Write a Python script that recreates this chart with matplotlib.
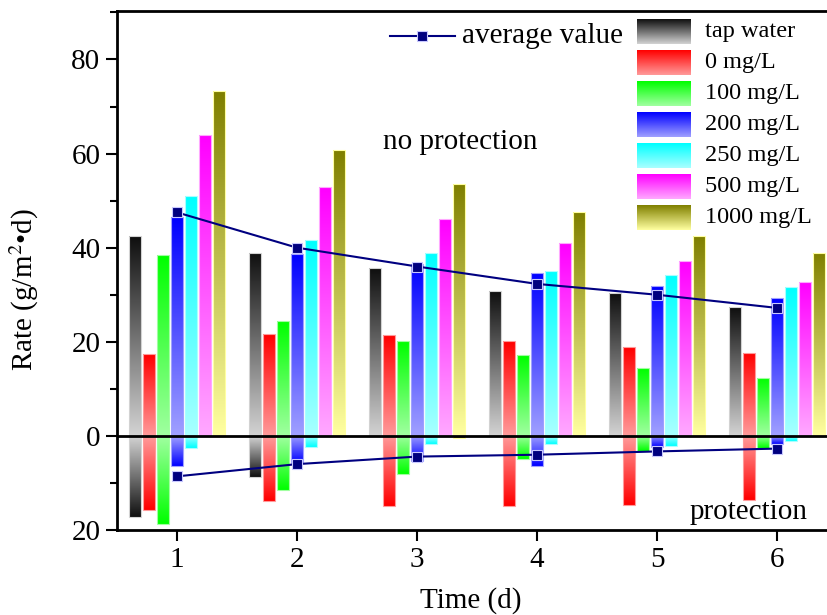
import numpy as np
import matplotlib.pyplot as plt
from matplotlib.colors import to_rgb
from matplotlib.ticker import MultipleLocator

plt.rcParams['font.family'] = ['Liberation Serif', 'DejaVu Serif']
plt.rcParams['mathtext.fontset'] = 'stix'

# 数据
days = [1, 2, 3, 4, 5, 6]
series_names = ['tap water', '0 mg/L', '100 mg/L', '200 mg/L', '250 mg/L', '500 mg/L', '1000 mg/L']

# no protection (正值)
tap_pos = [42.4, 38.9, 35.7, 30.7, 30.3, 27.4]
c0_pos = [17.3, 21.6, 21.5, 20.1, 18.9, 17.7]
c100_pos = [38.4, 24.4, 20.1, 17.1, 14.4, 12.4]
c200_pos = [46.5, 38.7, 36.6, 34.7, 31.8, 29.3]
c250_pos = [50.9, 41.6, 38.9, 35.0, 34.2, 31.6]
c500_pos = [64.0, 52.9, 46.1, 41.0, 37.1, 32.8]
c1000_pos = [73.2, 60.7, 53.6, 47.6, 42.5, 38.9]

# protection (负值)
tap_neg = [-17.2, -8.7, 0, 0, 0, 0]
c0_neg = [-15.7, -13.8, -15.0, -15.0, -14.6, -13.6]
c100_neg = [-18.7, -11.4, -8.1, -4.9, -3.3, -2.6]
c200_neg = [-6.3, -5.8, -5.4, -6.5, -2.4, -1.7]
c250_neg = [-2.6, -2.4, -1.7, -1.7, -2.2, -1.1]
c500_neg = [0, 0, 0, 0, 0, 0]
c1000_neg = [0, 0, -0.5, 0, 0, 0]

avg_pos = [47.5, 40.0, 36.0, 32.3, 30.0, 27.2]
avg_neg = [-8.6, -6.0, -4.4, -4.0, -3.3, -2.7]

pos_values = [tap_pos, c0_pos, c100_pos, c200_pos, c250_pos, c500_pos, c1000_pos]
neg_values = [tap_neg, c0_neg, c100_neg, c200_neg, c250_neg, c500_neg, c1000_neg]

# 渐变色 (深色端, 浅色端)
grad_colors = [('#101010', '#d2d2d2'), ('#ff0000', '#ff9a9a'), ('#00ff00', '#a0ffa0'),
               ('#0000ff', '#a0a0ff'), ('#00ffff', '#a8ffff'), ('#ff00ff', '#ffa8ff'),
               ('#808000', '#ffffa0')]


def grad_img(dark, light, n=64):
    """row 0 = 浅色, 最后一行 = 深色"""
    d = np.array(to_rgb(dark))
    l = np.array(to_rgb(light))
    t = np.linspace(0, 1, n)[:, None]
    return (l + (d - l) * t)[:, None, :]


def fill_gradient(ax, bars, dark, light):
    img = grad_img(dark, light)
    for p in bars.patches:
        h = p.get_height()
        if h == 0:
            continue
        x0, w = p.get_x(), p.get_width()
        if h > 0:
            ext = (x0, x0 + w, 0, h)
            arr = img
        else:
            ext = (x0, x0 + w, h, 0)
            arr = img[::-1]
        im = ax.imshow(arr, extent=ext, origin='lower', aspect='auto',
                       interpolation='bilinear', zorder=2)
        im.set_clip_path(p)


fig = plt.figure(figsize=(8.27, 6.15), dpi=100)
ax = fig.add_axes([117 / 827, 1 - 530 / 615, 780 / 827, 519 / 615])

step = 0.1167
width = 0.092
x = np.array(days, dtype=float)
for i in range(len(series_names)):
    dark, light = grad_colors[i]
    xi = x + (i - 3) * step
    for vals in (pos_values[i], neg_values[i]):
        bars = ax.bar(xi, vals, width, facecolor='none', edgecolor=light,
                      linewidth=0.8, zorder=3)
        fill_gradient(ax, bars, dark, light)

# 零线
ax.axhline(0, color='black', linewidth=2, zorder=4)

# 平均值折线
ax.plot(days, avg_pos, color='#000080', marker='s', markersize=7,
        markeredgecolor='#c8c8ff', markeredgewidth=0.8, linewidth=1.5, zorder=5)
ax.plot(days, avg_neg, color='#000080', marker='s', markersize=7,
        markeredgecolor='#c8c8ff', markeredgewidth=0.8, linewidth=1.5, zorder=5)

# 文字
ax.text(2.72, 62.4, 'no protection', fontsize=21, va='center', ha='left')
ax.text(5.275, -16.1, 'protection', fontsize=21, va='center', ha='left')

# 图例 (手动绘制渐变色块)
tr = ax.transAxes
ax_w, ax_h = 780.0, 519.0
for i, name in enumerate(series_names):
    top = 19 + 31 * i
    y1 = (530 - top) / ax_h
    y0 = (530 - top - 25) / ax_h
    x0 = (637 - 117) / ax_w
    x1 = (691 - 117) / ax_w
    ax.imshow(grad_img(*grad_colors[i]), extent=(x0, x1, y0, y1), origin='lower',
              aspect='auto', interpolation='bilinear', transform=tr, zorder=6)
    ax.text((705 - 117) / ax_w, (y0 + y1) / 2, name, fontsize=17.5,
            va='center', ha='left', transform=tr)

ly = (530 - 36) / ax_h
ax.plot([(390 - 117) / ax_w, (455 - 117) / ax_w], [ly, ly], color='#000080',
        linewidth=1.5, transform=tr, zorder=6)
ax.plot([(422 - 117) / ax_w], [ly], color='#000080', marker='s', markersize=7,
        markeredgecolor='#c8c8ff', markeredgewidth=0.8, transform=tr, zorder=6)
ax.text((462 - 117) / ax_w, ly, 'average value', fontsize=21, va='center',
        ha='left', transform=tr)

# 坐标轴
ax.set_xlim(0.5, 7.0)
ax.set_ylim(-20, 90.3)
ax.set_xticks(days)
ax.set_xticklabels([str(d) for d in days])
ax.set_yticks([-20, 0, 20, 40, 60, 80])
ax.set_yticklabels(['20', '0', '20', '40', '60', '80'])
ax.yaxis.set_minor_locator(MultipleLocator(10))
ax.tick_params(axis='both', which='major', direction='out', length=8, width=1.5,
               labelsize=21, pad=4)
ax.tick_params(axis='y', which='minor', direction='out', length=5, width=1.5)
ax.tick_params(axis='x', which='minor', bottom=False)
for s in ax.spines.values():
    s.set_linewidth(2)

ax.set_xlabel('Time (d)', fontsize=21)
ax.set_ylabel('Rate (g/m$^2$•d)', fontsize=21)
ax.xaxis.set_label_coords((471 - 117) / ax_w, -0.11)
ax.yaxis.set_label_coords(-0.097, (530 - 290) / ax_h)

fig.savefig('out.png', dpi=100)
